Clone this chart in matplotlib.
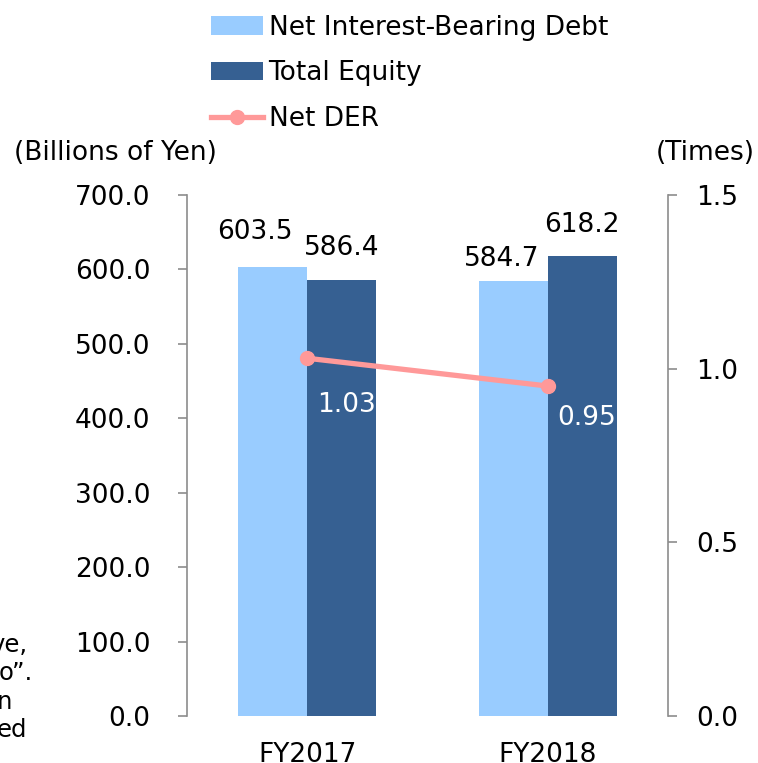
import numpy as np
import matplotlib.pyplot as plt

plt.rcParams['font.family'] = ['DejaVu Sans']

years = ["FY2017", "FY2018"]
debt = [603.5, 584.7]
equity = [586.4, 618.2]
der = [1.03, 0.95]
left_ticks = [0, 100, 200, 300, 400, 500, 600, 700]
right_ticks = [0.0, 0.5, 1.0, 1.5]
side_note = ["ve,", "o\u201d.", "n", "ed"]

c_debt = "#99CCFF"
c_eq = "#366092"
c_der = "#FF9999"
grey = "#8C8C8C"
fs = 19

fig = plt.figure(figsize=(7.58, 7.63), dpi=100)
ax = fig.add_axes([187 / 758, 1 - 716 / 763, 481 / 758, 521 / 763])
x = np.arange(len(years))
w = 0.287

b1 = ax.bar(x - w / 2, debt, w, color=c_debt, label="Net Interest-Bearing Debt")
b2 = ax.bar(x + w / 2, equity, w, color=c_eq, label="Total Equity")
ax.set_xlim(-0.5, 1.5)
ax.set_ylim(0, 700)
ax.set_yticks(left_ticks)
ax.set_yticklabels([f"{v:.1f}" for v in left_ticks], fontsize=fs)
ax.set_xticks(x)
ax.set_xticklabels(years, fontsize=fs)
ax.tick_params(axis="x", length=0, pad=19)
ax.tick_params(axis="y", length=6.5, width=1.2, color=grey, pad=20)
for s in ["top", "right", "bottom"]:
    ax.spines[s].set_visible(False)
ax.spines["left"].set_color(grey)
ax.spines["left"].set_linewidth(1.2)

# label offsets (points) copied from the reference layout
debt_off = [(-13, 25), (-8, 16)]
eq_off = [(0, 22.5), (0, 22)]
for i, v in enumerate(debt):
    ax.annotate(f"{v:.1f}", (x[i] - w / 2, v), xytext=debt_off[i],
                textcoords="offset points", ha="center", va="center", fontsize=fs)
for i, v in enumerate(equity):
    ax.annotate(f"{v:.1f}", (x[i] + w / 2, v), xytext=eq_off[i],
                textcoords="offset points", ha="center", va="center", fontsize=fs)

ax2 = ax.twinx()
ln, = ax2.plot(x, der, color=c_der, lw=3.8, marker="o", ms=10, label="Net DER")
ax2.set_ylim(0, 1.5)
ax2.set_yticks(right_ticks)
ax2.set_yticklabels([f"{v:.1f}" for v in right_ticks], fontsize=fs)
ax2.tick_params(axis="y", length=6.5, width=1.2, color=grey, pad=14)
for s in ["top", "left", "bottom"]:
    ax2.spines[s].set_visible(False)
ax2.spines["right"].set_color(grey)
ax2.spines["right"].set_linewidth(1.2)
dy = [-34, -23]
for i, v in enumerate(der):
    ax2.annotate(f"{v:.2f}", (x[i], v), xytext=(28, dy[i]),
                 textcoords="offset points", ha="center", va="center",
                 fontsize=fs, color="white")

fig.text(14 / 758, 1 - 153 / 763, "(Billions of Yen)", fontsize=fs, va="center")
fig.text(755 / 758, 1 - 153 / 763, "(Times)", fontsize=fs, va="center", ha="right")

fig.legend(handles=[b1, b2, ln], loc="upper left", bbox_to_anchor=(200 / 758, 1 - 4 / 763),
           frameon=False, fontsize=fs, handlelength=2.0, handletextpad=0.2,
           labelspacing=0.75, borderaxespad=0)

note_x = [27, 33, 12, 27]
for i, t in enumerate(side_note):
    fig.text(note_x[i] / 758, 1 - (652 + 28.3 * i) / 763, t, fontsize=17.5,
             ha="right", va="baseline")

fig.savefig("out.png", dpi=100)
